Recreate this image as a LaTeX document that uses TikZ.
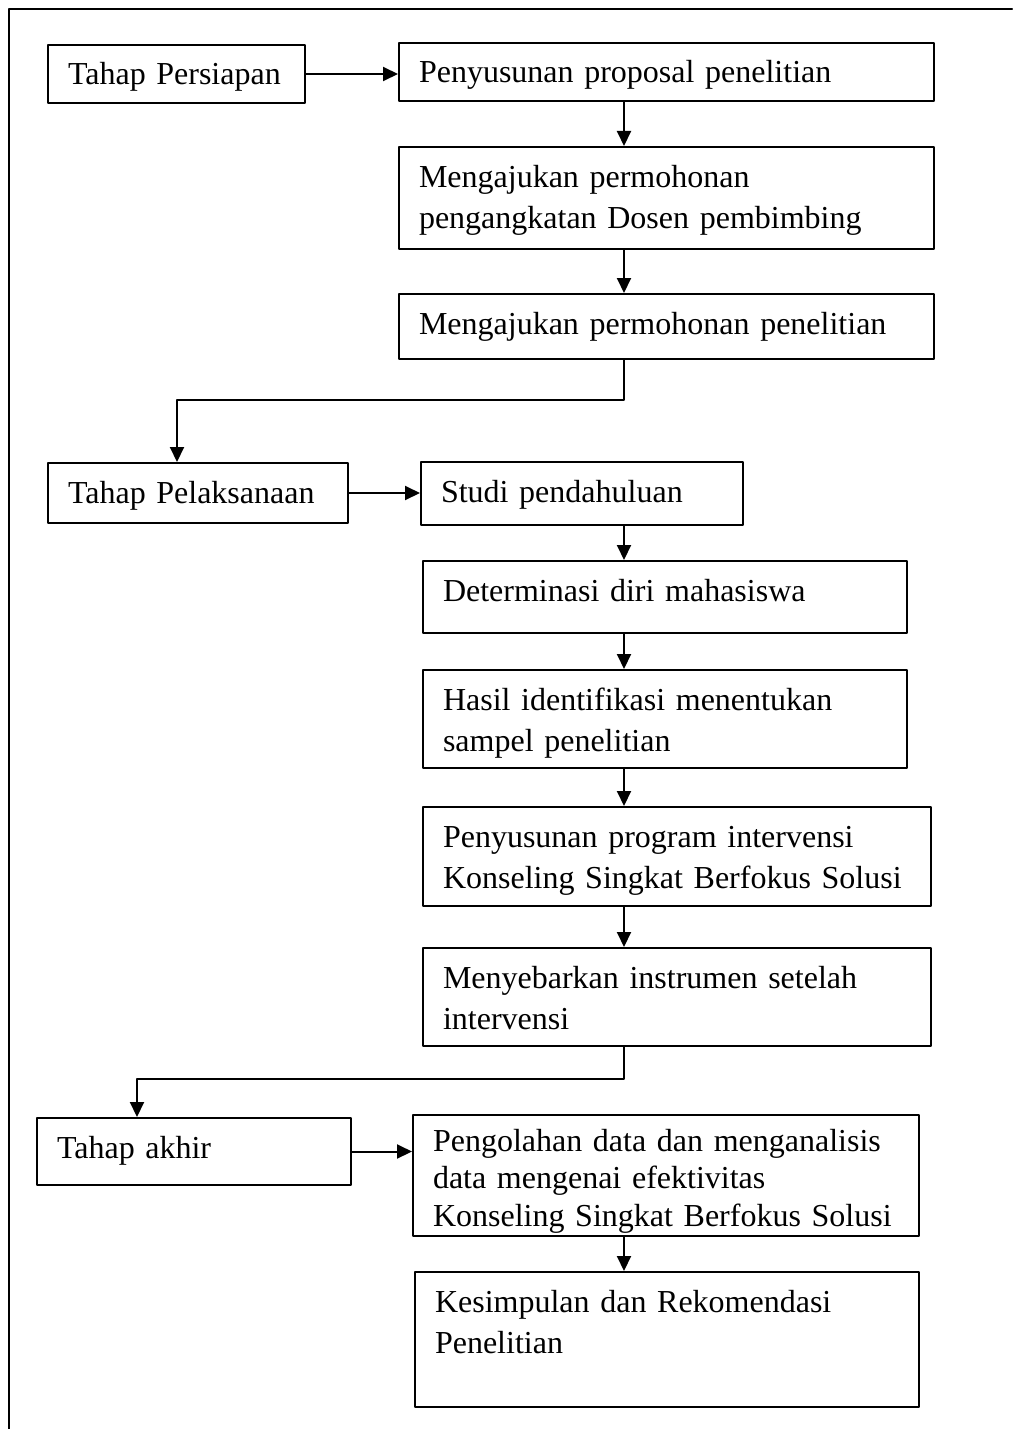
\documentclass[tikz,border=0pt]{standalone}
\usepackage{fontspec}
\setmainfont{Liberation Serif}
\usetikzlibrary{arrows.meta,positioning,calc}

\tikzset{
  stepbox/.style={draw,line width=1pt,anchor=north west,align=left,
    inner xsep=0pt,inner ysep=0pt,text height=20pt,
    font=\fontsize{16}{20.5}\selectfont,
    execute at begin node={\leftskip=10pt\relax}},
  flow/.style={line width=1pt,-{Triangle[length=7.5pt,width=7pt]}}
}

\begin{document}
\begin{tikzpicture}[x=0.5pt,y=-0.5pt,line cap=round,line join=round]
  \useasboundingbox (0,0) rectangle (1012,1429);
  % frame
  \draw[line width=1.4pt] (9,1429) -- (9,9) -- (1012,9);

  % tahap persiapan
  \node[stepbox,text width=128.5pt,text depth=9pt] (persiapan) at (47,44) {Tahap Persiapan};
  \node[stepbox,text width=267.5pt,text depth=9pt] (proposal) at (398,42) {Penyusunan proposal penelitian};
  \node[stepbox,text width=267.5pt,text depth=31pt] (dosen) at (398,146) {Mengajukan permohonan\\pengangkatan Dosen pembimbing};
  \node[stepbox,text width=267.5pt,text depth=12.5pt] (izin) at (398,293) {Mengajukan permohonan penelitian};

  % tahap pelaksanaan
  \node[stepbox,text width=150pt,text depth=10pt] (pelaksanaan) at (47,462) {Tahap Pelaksanaan};
  \node[stepbox,text width=161pt,text depth=11.5pt] (studi) at (420,461) {Studi pendahuluan};
  \node[stepbox,text width=242pt,text depth=16pt] (determinasi) at (422,560) {Determinasi diri mahasiswa};
  \node[stepbox,text width=242pt,text depth=29pt] (sampel) at (422,669) {Hasil identifikasi menentukan\\sampel penelitian};
  \node[stepbox,text width=254pt,text depth=29.5pt] (program) at (422,806) {Penyusunan program intervensi\\Konseling Singkat Berfokus Solusi};
  \node[stepbox,text width=254pt,text depth=29pt] (sebar) at (422,947) {Menyebarkan instrumen setelah\\intervensi};

  % tahap akhir
  \node[stepbox,text width=157pt,text depth=13.5pt] (akhir) at (36,1117) {Tahap akhir};
  \node[stepbox,text width=253pt,text height=18pt,text depth=42.5pt,font=\fontsize{16}{18.75}\selectfont] (olah) at (412,1114) {Pengolahan data dan menganalisis\\data mengenai efektivitas\\Konseling Singkat Berfokus Solusi};
  \node[stepbox,text width=252pt,text depth=47.5pt] (simpulan) at (414,1271) {Kesimpulan dan Rekomendasi\\Penelitian};

  % connectors
  \coordinate (col) at (624,0);
  \coordinate (bend1) at (177,400);
  \coordinate (bend2) at (137,1079);
  \draw[flow] (persiapan.east) -- (persiapan.east -| proposal.west);
  \draw[flow] (proposal.south -| col) -- (dosen.north -| col);
  \draw[flow] (dosen.south -| col) -- (izin.north -| col);
  \draw[flow] (izin.south -| col) |- (bend1) -- (bend1 |- pelaksanaan.north);
  \draw[flow] (pelaksanaan.east) -- (pelaksanaan.east -| studi.west);
  \draw[flow] (studi.south -| col) -- (determinasi.north -| col);
  \draw[flow] (determinasi.south -| col) -- (sampel.north -| col);
  \draw[flow] (sampel.south -| col) -- (program.north -| col);
  \draw[flow] (program.south -| col) -- (sebar.north -| col);
  \draw[flow] (sebar.south -| col) |- (bend2) -- (bend2 |- akhir.north);
  \draw[flow] (akhir.east) -- (akhir.east -| olah.west);
  \draw[flow] (olah.south -| col) -- (simpulan.north -| col);
\end{tikzpicture}
\end{document}
